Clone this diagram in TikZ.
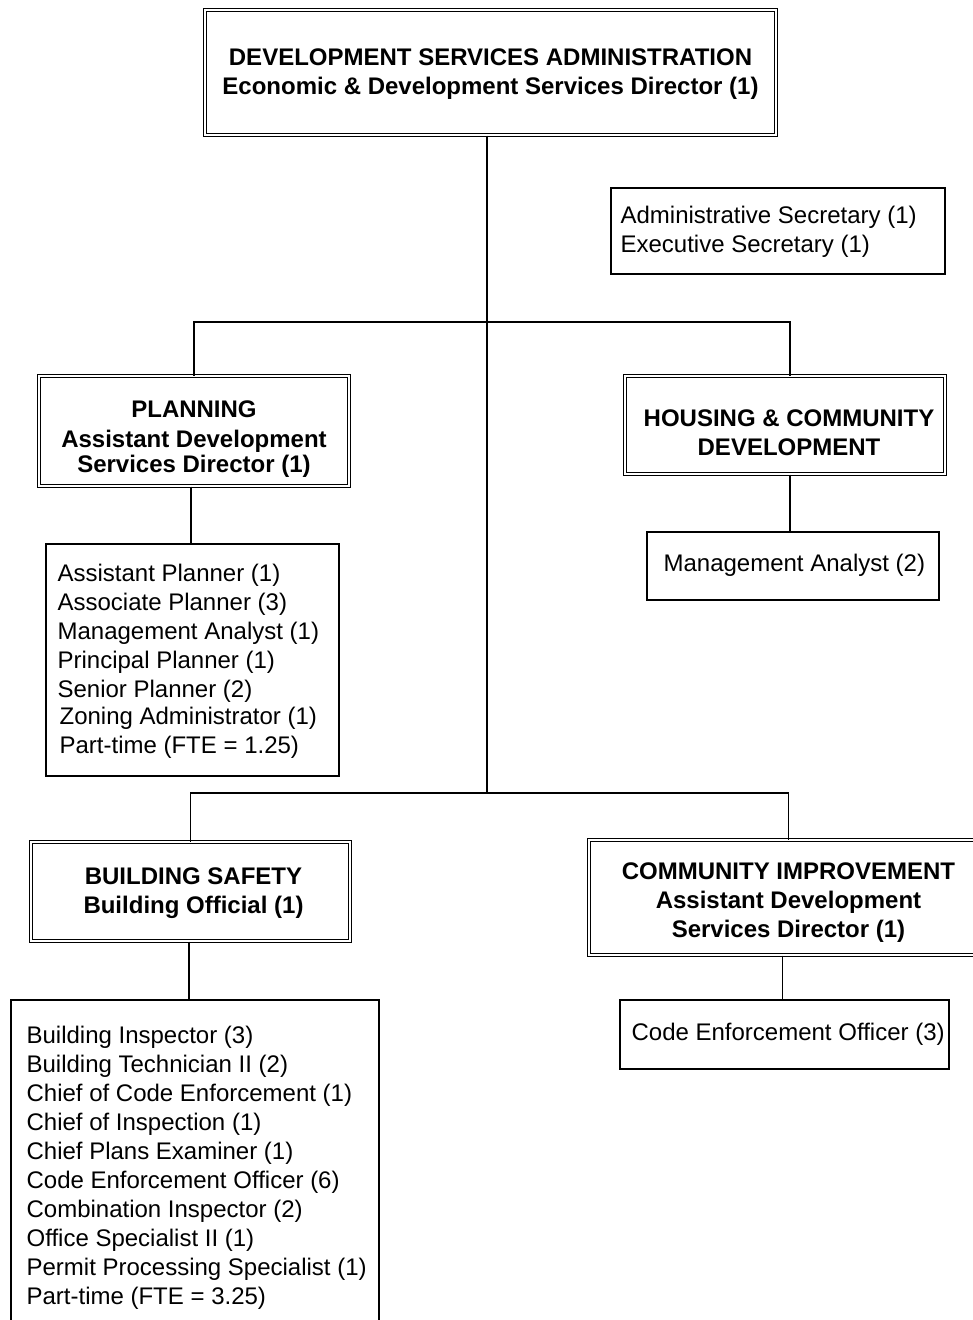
\documentclass[tikz,border=0pt]{standalone}
\usepackage{fontspec}
\setmainfont{Liberation Sans}
\begin{document}
\begin{tikzpicture}[x=1pt,y=-1pt,
  sbox/.style={draw=black, line width=1.2pt, inner sep=0pt},
  dbox/.style={draw=black, double, double distance=2.2pt, line width=1pt, inner sep=0pt},
  btext/.style={align=center, inner sep=0pt, font=\fontsize{24}{29}\selectfont\bfseries},
  ltext/.style={align=left, inner sep=0pt, anchor=west, font=\fontsize{24}{29}\selectfont},
  conn/.style={line width=1.4pt}]
\useasboundingbox[fill=white] (0,0) rectangle (973,1320);

\node[dbox, minimum width=571pt, minimum height=125pt] (top) at (490.5,72.5) {};
\node[btext] (topT) at ([yshift=-2pt]top.center)
  {DEVELOPMENT SERVICES ADMINISTRATION\\Economic \& Development Services Director (1)};

\node[sbox, minimum width=334pt, minimum height=86pt] (sec) at (778,231) {};
\node[ltext] (secT) at ([xshift=10pt,yshift=-1pt]sec.west)
  {Administrative Secretary (1)\\Executive Secretary (1)};

\node[dbox, minimum width=310pt, minimum height=110pt] (plan) at (194,431) {};
\node[btext] (planT) at ([yshift=-8pt]plan.center)
  {PLANNING\\[1pt]Assistant Development\\[-4pt]Services Director (1)};

\node[dbox, minimum width=320pt, minimum height=98pt] (house) at (785,425) {};
\node[btext] (houseT) at ([yshift=-8pt,xshift=4pt]house.center)
  {HOUSING \& COMMUNITY\\DEVELOPMENT};

\node[sbox, minimum width=293pt, minimum height=232pt] (planlist) at (192.5,660) {};
\node[ltext] (planlistT) at ([xshift=12pt,yshift=-1pt]planlist.west)
  {Assistant Planner (1)\\Associate Planner (3)\\Management Analyst (1)\\Principal Planner (1)\\Senior Planner (2)\\[-2pt]\hspace*{2pt}Zoning Administrator (1)\\\hspace*{2pt}Part-time (FTE = 1.25)};

\node[sbox, minimum width=292pt, minimum height=68pt] (mgmt) at (793,566) {};
\node[ltext] (mgmtT) at ([xshift=17pt,yshift=1pt]mgmt.west) {Management Analyst (2)};

\node[dbox, minimum width=319pt, minimum height=99pt] (bs) at (190.5,891.5) {};
\node[btext] (bsT) at ([yshift=-2pt,xshift=3pt]bs.center)
  {BUILDING SAFETY\\Building Official (1)};

\node[dbox, minimum width=399pt, minimum height=115pt] (ci) at (788.5,897.5) {};
\node[btext] (ciT) at ([yshift=-5pt]ci.center)
  {COMMUNITY IMPROVEMENT\\Assistant Development\\Services Director (1)};

\node[sbox, minimum width=329pt, minimum height=69pt] (ce) at (784.5,1034.5) {};
\node[ltext] (ceT) at ([xshift=12pt]ce.west) {Code Enforcement Officer (3)};

\node[sbox, minimum width=368pt, minimum height=330pt] (bl) at (195,1165) {};
\node[ltext] (blT) at ([xshift=16pt,yshift=-3pt]bl.west)
  {Building Inspector (3)\\Building Technician II (2)\\Chief of Code Enforcement (1)\\Chief of Inspection (1)\\Chief Plans Examiner (1)\\Code Enforcement Officer (6)\\Combination Inspector (2)\\Office Specialist II (1)\\Permit Processing Specialist (1)\\Part-time (FTE = 3.25)};

\coordinate (j1) at (487,322);
\coordinate (j2) at (487,793);

\draw[conn] (top.south -| j1) -- (j2);
\draw[conn] (plan.north) |- (j1) -| ([xshift=5pt]house.north);
\draw[conn] (bs.north) |- (j2) -| (ci.north);
\draw[conn] ([xshift=-3pt]plan.south) -- ([xshift=-3pt]plan.south |- planlist.north);
\draw[conn] ([xshift=5pt]house.south) -- ([xshift=5pt]house.south |- mgmt.north);
\draw[conn] ([xshift=-6pt]bl.north |- bs.south) -- ([xshift=-6pt]bl.north);
\draw[conn] ([xshift=-2pt]ce.north |- ci.south) -- ([xshift=-2pt]ce.north);
\end{tikzpicture}
\end{document}
